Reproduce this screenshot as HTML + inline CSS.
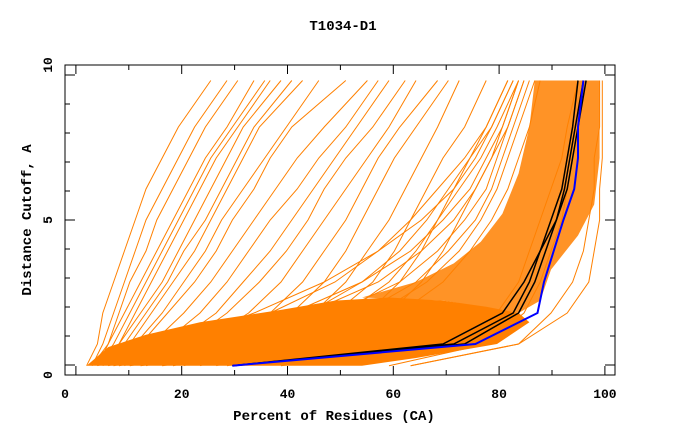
<!DOCTYPE html>
<html><head><meta charset="utf-8"><style>
body{margin:0;background:#fff}
svg text{font-family:"Liberation Mono",monospace;font-weight:bold;fill:#000}
</style></head><body>
<svg id="chart" width="680" height="440" xmlns="http://www.w3.org/2000/svg">
<text x="343" y="30" font-size="14" text-anchor="middle">T1034-D1</text>
<text x="334" y="420" font-size="14" text-anchor="middle">Percent of Residues (CA)</text>
<text x="0" y="0" font-size="14" text-anchor="middle" transform="translate(31,220) rotate(-90)">Distance Cutoff, A</text>
<g id="plot"></g>
<g id="axes"></g>
</svg>
<script>
const cutoffs=[0.3,1,2,3,4,5,6,7,8,9.5];
const orangeModels=[
[4,6,7,9,11,13,15,18,21,27],[5,7,9,11,13,15,18,21,24,30],[6,8,10,12,15,17,20,23,26,32],
[5,8,11,14,17,20,23,26,30,35],[6,9,12,15,18,21,24,27,31,37],[7,10,13,16,19,22,25,28,32,38],
[6,10,14,18,21,24,27,30,33,40],[7,11,15,19,22,26,29,32,35,42],[8,12,16,20,24,27,30,33,36,44],
[8,13,18,22,26,29,33,37,41,47],[9,14,19,24,28,31,35,38,42,52],[10,16,22,27,31,35,39,43,48,56],
[11,18,25,30,34,38,43,47,52,58],[12,20,28,33,38,42,46,50,54,60],[14,22,30,36,41,45,48,52,57,63],
[15,25,34,40,44,48,52,56,60,65],[18,28,38,44,48,52,55,58,62,69],[20,32,42,48,52,55,58,61,65,71],
[22,35,46,52,56,60,63,66,69,73],[25,40,50,57,61,64,67,70,74,78],[28,45,56,62,66,69,72,75,78,82],
[30,50,60,66,70,73,76,79,82,85],[20,38,52,60,65,69,73,77,80,84],[15,30,45,55,62,67,71,75,79,83],
[10,24,38,50,58,64,69,74,78,82],[8,25,45,58,66,72,76,79,81,84],[10,30,50,62,69,74,78,80,82,85],
[12,35,55,65,71,76,79,81,83,86],[14,40,58,67,73,77,80,82,84,87],[9,28,42,55,64,70,75,78,81,84],
[6,20,35,48,58,66,72,76,79,83],[18,45,62,70,75,79,82,84,86,88],
[40,70,80,84,86,88,90,92,93,95],[60,78,85,88,90,92,93,94,95,96],
[64,84,90,94,96,97,98,98,99,99],[64,84,93,97,98,99,99,99.5,99.5,99.5]];
const blackModels=[[31,72,83,86,88,90,92,93,94,95],[31,70,81,85,88,91,92.5,93.5,94.5,96],[31,74,84,87,89,91,93,94,95,96.5]];
const blueModel=[31,76,87.5,88.7,90.5,92.3,94.3,95,95,96];
const fanX=[4,8,15,25,40,50,60,70,78,84,86,80,65,55,4];
const fanY=[0.3,0.9,1.3,1.7,2.1,2.4,2.5,2.4,2.2,2.0,1.7,1.0,0.55,0.3,0.3];
const bandX=[55,65,72,77,81,84,86,87,99,99,98,95,90,88,84,70];
const bandY=[2.5,3.0,3.6,4.3,5.2,6.5,8,9.5,9.5,7,5.5,4.5,3.4,2.4,2.0,2.4];
const xTicks=[0,20,40,60,80,100];
const yTicks=[0,5,10];
const X=v=>65+v*5.4, Y=v=>375-v*31;
const NS="http://www.w3.org/2000/svg";
const plot=document.getElementById('plot'), axes=document.getElementById('axes');
function mk(tag,attrs,parent){const e=document.createElementNS(NS,tag);for(const k in attrs)e.setAttribute(k,attrs[k]);parent.appendChild(e);return e;}
function poly(xs,ys){return xs.map((x,i)=>X(x)+','+Y(ys[i])).join(' ');}
let p=mk('polygon',{points:poly(bandX,bandY),fill:'#ff8000','fill-opacity':0.85},plot);


p=mk('polygon',{points:poly(fanX,fanY),fill:'#ff8000'},plot);


orangeModels.forEach(m=>{const l=mk('polyline',{points:poly(m,cutoffs),fill:'none',stroke:'#ff8000','stroke-width':1},plot);

});
blackModels.forEach(m=>{const l=mk('polyline',{points:poly(m,cutoffs),fill:'none',stroke:'#000','stroke-width':1.5},plot);

});
let b=mk('polyline',{points:poly(blueModel,cutoffs),fill:'none',stroke:'#0000ff','stroke-width':2},plot);


let f=mk('rect',{x:65,y:65,width:550,height:310,fill:'none',stroke:'#000','stroke-width':1},axes);


for(let i=0;i<=10;i++){const px=75.9+i*52.9;
mk('line',{x1:px,y1:375,x2:px,y2:i%2?370:366,stroke:'#000'},axes);
mk('line',{x1:px,y1:65,x2:px,y2:i%2?70:74,stroke:'#000'},axes);}
for(let i=0;i<=10;i++){const py=365-i*29;
mk('line',{x1:65,y1:py,x2:i%5?70:75,y2:py,stroke:'#000'},axes);
mk('line',{x1:615,y1:py,x2:i%5?610:605,y2:py,stroke:'#000'},axes);}
xTicks.forEach((t,i)=>{const t2=mk('text',{x:i==0?65:75.9+t*5.29,y:398,'font-size':13,'text-anchor':'middle'},axes);t2.textContent=t;

});
const yPos=[375,220,65];
yTicks.forEach((t,i)=>{const t2=mk('text',{x:0,y:0,'font-size':13,'text-anchor':'middle',transform:`translate(52,${yPos[i]}) rotate(-90)`},axes);t2.textContent=t;

});
</script>
</body></html>
